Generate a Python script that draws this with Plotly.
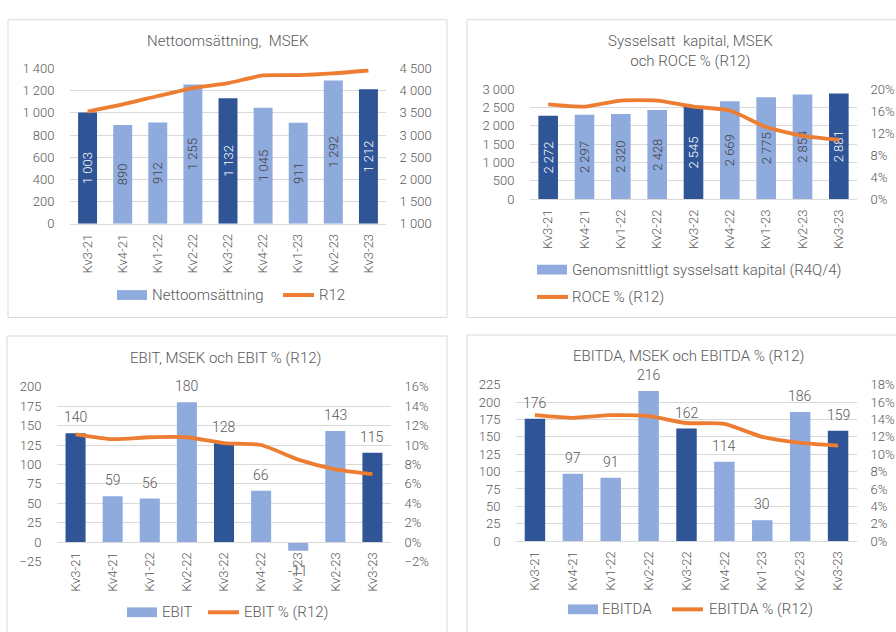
import plotly.graph_objects as go

# ---------------- data ----------------
quarters = ["Kv3-21", "Kv4-21", "Kv1-22", "Kv2-22", "Kv3-22", "Kv4-22", "Kv1-23", "Kv2-23", "Kv3-23"]
net_sales = [1003, 890, 912, 1255, 1132, 1045, 911, 1292, 1212]
net_sales_r12 = [3530, 3690, 3880, 4060, 4170, 4345, 4350, 4390, 4455]
capital = [2272, 2297, 2320, 2428, 2545, 2669, 2775, 2854, 2881]
roce_pct = [17.2, 16.8, 17.9, 17.9, 16.8, 16.1, 13.1, 11.5, 10.8]
ebit = [140, 59, 56, 180, 128, 66, -11, 143, 115]
ebit_pct = [11.1, 10.6, 10.8, 10.8, 10.2, 10.0, 8.5, 7.5, 7.0]
ebitda = [176, 97, 91, 216, 162, 114, 30, 186, 159]
ebitda_pct = [14.5, 14.2, 14.5, 14.4, 13.6, 13.5, 12.0, 11.3, 11.0]

titles = ["Nettoomsättning,  MSEK",
          "Sysselsatt  kapital, MSEK<br>och ROCE % (R12)",
          "EBIT, MSEK och EBIT % (R12)",
          "EBITDA, MSEK och EBITDA % (R12)"]
bar_names = ["Nettoomsättning", "Genomsnittligt sysselsatt kapital (R4Q/4)", "EBIT", "EBITDA"]
line_names = ["R12", "ROCE % (R12)", "EBIT % (R12)", "EBITDA % (R12)"]

# ---------------- style ----------------
W, H = 896, 632
DARK = "#2F5597"
LIGHT = "#8FAADC"
ORANGE = "#ED7D31"
GRID = "#D9D9D9"
TXT = "#595959"
FONT = "Roboto"
WEIGHT = 300


def px(x):
    return x / W


def py(y):
    return 1 - y / H


def fmt(v):
    return f"{v:,}".replace(",", " ")


def tfont(size, color=TXT):
    return dict(family=FONT, size=size, color=color, weight=WEIGHT)


bar_colors = [DARK if q.startswith("Kv3") else LIGHT for q in quarters]
inside_colors = ["white" if q.startswith("Kv3") else "#404040" for q in quarters]

panels = [
    dict(x="x", yl="y", yr="y2", xd=(70, 386), yd=(63, 222), lr=[0, 1400], ld=200,
         rr=[1000, 4500], rd=500, rsuf="", rfmt=",d", bars=net_sales, line=net_sales_r12,
         inside=True, title_xy=(228, 35), border=(8, 13, 447, 318),
         legend=[("bar", 117, 295, 150), ("line", 283, 295, 317)]),
    dict(x="x2", yl="y3", yr="y4", xd=(530, 857), yd=(84, 197), lr=[0, 3000], ld=500,
         rr=[0, 20], rd=4, rsuf="%", rfmt="", bars=capital, line=roce_pct,
         inside=True, title_xy=(690, 45), border=(467, 13, 910, 318),
         legend=[("bar", 537, 269, 570), ("line", 537, 297, 570)]),
    dict(x="x3", yl="y5", yr="y6", xd=(57, 391), yd=(389, 568), lr=[-25, 200], ld=25,
         rr=[-2, 16], rd=2, rsuf="%", rfmt="", bars=ebit, line=ebit_pct,
         inside=False, title_xy=(225, 360), border=(7, 337, 447, 650),
         legend=[("bar", 127, 620, 160), ("line", 208, 620, 242)]),
    dict(x="x4", yl="y7", yr="y8", xd=(516, 857), yd=(387, 547), lr=[0, 225], ld=25,
         rr=[0, 18], rd=2, rsuf="%", rfmt="", bars=ebitda, line=ebitda_pct,
         inside=False, title_xy=(688, 357), border=(467, 336, 910, 650),
         legend=[("bar", 568, 617, 600), ("line", 672, 617, 707)]),
]


def lk(aid):
    return aid[0] + "axis" + aid[1:]


fig = go.Figure()
layout = {}
shapes = []
annotations = []

for i, p in enumerate(panels):
    xa, yl, yr = p["x"], p["yl"], p["yr"]
    bar_kwargs = dict(x=quarters, y=p["bars"], marker=dict(color=bar_colors, line=dict(width=0)),
                      xaxis=xa, yaxis=yl, showlegend=False, name=bar_names[i], cliponaxis=False)
    if p["inside"]:
        bar_kwargs.update(text=[fmt(v) for v in p["bars"]], textposition="inside",
                          insidetextanchor="middle", textangle=-90, constraintext="none",
                          textfont=dict(family=FONT, size=13, color=inside_colors, weight=WEIGHT))
    fig.add_trace(go.Bar(**bar_kwargs))
    fig.add_trace(go.Scatter(x=quarters, y=p["line"], mode="lines", name=line_names[i],
                             line=dict(color=ORANGE, width=3.8, shape="spline", smoothing=0.6),
                             xaxis=xa, yaxis=yr, showlegend=False))

    xdom = [px(p["xd"][0]), px(p["xd"][1])]
    ydom = [py(p["yd"][1]), py(p["yd"][0])]
    xaxis = dict(domain=xdom, type="category", range=[-0.5, len(quarters) - 0.5],
                 tickangle=-90, showgrid=False, showline=True, linecolor=GRID, linewidth=1,
                 ticks="outside", ticklen=4, tickcolor="rgba(0,0,0,0)",
                 tickfont=tfont(13), anchor=yl)
    lo, hi = p["lr"]
    if lo < 0:
        zero_pos = ydom[0] + (0 - lo) / (hi - lo) * (ydom[1] - ydom[0])
        xaxis.update(anchor="free", position=zero_pos)
    layout[lk(xa)] = xaxis
    layout[lk(yl)] = dict(domain=ydom, range=p["lr"], dtick=p["ld"], tick0=0, anchor=xa,
                          showgrid=True, gridcolor=GRID, gridwidth=1, zeroline=False,
                          showline=False, ticks="outside", ticklen=12,
                          tickcolor="rgba(0,0,0,0)", tickformat=",d", separatethousands=True,
                          tickfont=tfont(13))
    layout[lk(yr)] = dict(overlaying=yl, side="right", anchor=xa, range=p["rr"], dtick=p["rd"],
                          tick0=0, showgrid=False, zeroline=False, showline=False,
                          ticks="outside", ticklen=10, tickcolor="rgba(0,0,0,0)",
                          ticksuffix=p["rsuf"], tickformat=p["rfmt"], separatethousands=True,
                          tickfont=tfont(13))

    if not p["inside"]:
        for q, v in zip(quarters, p["bars"]):
            annotations.append(dict(x=q, y=v, xref=xa, yref=yl, text=str(v), showarrow=False,
                                    yanchor="bottom" if v >= 0 else "top",
                                    yshift=6 if v >= 0 else -10, font=tfont(14)))

    # border
    bx0, by0, bx1, by1 = p["border"]
    shapes.append(dict(type="rect", xref="paper", yref="paper", x0=px(bx0), x1=px(bx1),
                       y0=py(by1), y1=py(by0), line=dict(color=GRID, width=1), layer="below"))
    # title
    tx, ty = p["title_xy"]
    annotations.append(dict(x=px(tx), y=py(ty), xref="paper", yref="paper", text=titles[i],
                            showarrow=False, xanchor="center", yanchor="middle", font=tfont(15)))
    # legend
    for kind, lx, ly, tx2 in p["legend"]:
        if kind == "bar":
            shapes.append(dict(type="rect", xref="paper", yref="paper", x0=px(lx), x1=px(lx + 30),
                               y0=py(ly + 5), y1=py(ly - 5), fillcolor=LIGHT, line=dict(width=0)))
            label = bar_names[i]
        else:
            shapes.append(dict(type="line", xref="paper", yref="paper", x0=px(lx), x1=px(lx + 31),
                               y0=py(ly), y1=py(ly), line=dict(color=ORANGE, width=4)))
            label = line_names[i]
        annotations.append(dict(x=px(tx2), y=py(ly), xref="paper", yref="paper", text=label,
                                showarrow=False, xanchor="left", yanchor="middle", font=tfont(15)))

fig.update_layout(**layout)
fig.update_layout(width=W, height=H, margin=dict(l=0, r=0, t=0, b=0),
                  paper_bgcolor="white", plot_bgcolor="white", bargap=0.46,
                  separators=", ", showlegend=False, shapes=shapes, annotations=annotations,
                  font=dict(family=FONT, color=TXT))

fig.write_html("out.html", config={"displayModeBar": False},
               post_script="document.body.style.margin='0';document.body.style.overflow='hidden';")
